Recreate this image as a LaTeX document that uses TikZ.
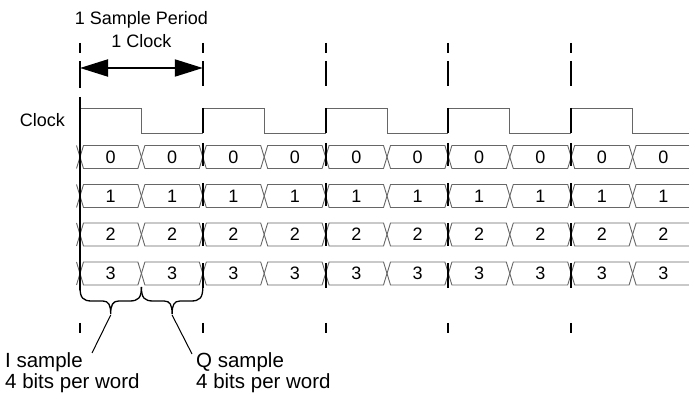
\documentclass[tikz,border=0pt]{standalone}
\usepackage{fontspec}
\setmainfont{Liberation Sans}
\usetikzlibrary{arrows.meta}
\tikzstyle{wave}=[draw=black!60, line width=0.9pt]
\tikzstyle{tick}=[draw=black, line width=2pt]
\tikzstyle{brace}=[draw=black, line width=1.3pt]
\tikzstyle{every node}=[font=\fontsize{18}{21}\selectfont, inner sep=0pt]
\tikzstyle{note}=[anchor=north west, align=left, font=\fontsize{20.5}{21}\selectfont]

\begin{document}
\begin{tikzpicture}[x=1pt,y=-1pt,>=latex]
    \useasboundingbox (0,0) rectangle (689,395);

    \node[anchor=base] (period) at (141.4,25) {1 Sample Period};
    \node[anchor=base] (oneclk) at (141.4,48) {1 Clock};
    \coordinate (pa) at (80,68);
    \coordinate (pb) at (202.8,68);
    \draw[line width=2pt, {Triangle[length=28pt,width=17pt]}-{Triangle[length=28pt,width=17pt]}] (pa) -- (pb);

    % clock
    \node[anchor=base east] (clklab) at (65,127) {Clock};
    \foreach \n in {0,...,4} {
        \pgfmathsetmacro\r{80+122.8*\n}
        \pgfmathsetmacro\re{min(\r+122.8,689)}
        \draw[wave] (\r,133) -- (\r,108) -- (\r+61.4,108) -- (\r+61.4,133) -- (\re,133);
    }

    % data words
    \foreach \w/\yc in {0/157,1/196,2/234.5,3/273.5} {
        \draw[wave] (76.5,\yc-11.5) -- (80,\yc) -- (76.5,\yc+11.5);
        \foreach \k in {0,...,9} {
            \pgfmathsetmacro\xa{80+61.4*\k}
            \pgfmathsetmacro\xb{\xa+61.4}
            \ifnum\k<9
                \draw[wave] (\xa,\yc) -- (\xa+3.5,\yc-11.5) -- (\xb-3.5,\yc-11.5) -- (\xb,\yc) -- (\xb-3.5,\yc+11.5) -- (\xa+3.5,\yc+11.5) -- cycle;
            \else
                \draw[wave] (689,\yc-11.5) -- (\xa+3.5,\yc-11.5) -- (\xa,\yc) -- (\xa+3.5,\yc+11.5) -- (689,\yc+11.5);
            \fi
            \node[anchor=base] (w\w-\k) at (\xa+30.7,\yc+6.5) {\w};
        }
    }

    % braces
    \foreach \s/\e/\n in {80/141.4/i,141.4/202.8/q} {
        \pgfmathsetmacro\xm{(\s+\e)/2}
        \draw[brace] (\s,287) .. controls (\s,298) and (\s+3,301) .. (\s+12,301) -- (\xm-8,301) .. controls (\xm-2,301) and (\xm,305) .. (\xm,314) .. controls (\xm,305) and (\xm+2,301) .. (\xm+8,301) -- (\e-12,301) .. controls (\e-3,301) and (\e,298) .. (\e,287);
        \coordinate (tip-\n) at (\xm,315);
    }
    \node[note] (isamp) at (5,352) {I sample\\4 bits per word};
    \node[note] (qsamp) at (196,352) {Q sample\\4 bits per word};
    \coordinate (iend) at (92,353);
    \coordinate (qend) at (192,354);
    \draw[line width=1pt] (tip-i) -- (iend);
    \draw[line width=1pt] (tip-q) -- (qend);

    % sample period marks
    \foreach \n in {1,...,4} {
        \pgfmathsetmacro\t{80+122.8*\n}
        \foreach \a/\b in {43/53,61/86,108/133,143/166,183/206,223/246,263/288,323/333}
            \draw[tick] (\t,\a) -- (\t,\b);
    }
    \foreach \a/\b in {43/53,61/88,97/290,323/333}
        \draw[tick] (80,\a) -- (80,\b);
\end{tikzpicture}
\end{document}
